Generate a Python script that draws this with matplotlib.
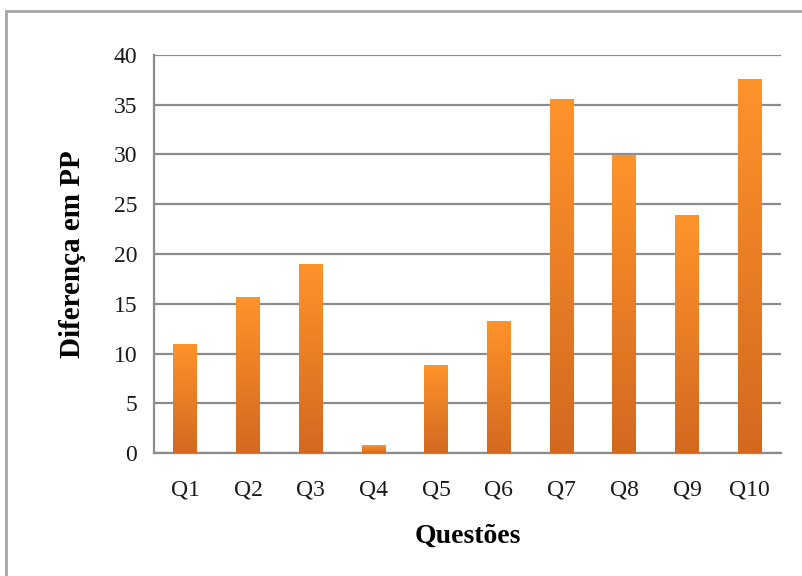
import numpy as np
import matplotlib.pyplot as plt
from matplotlib.patches import Rectangle
from matplotlib.colors import LinearSegmentedColormap

questoes = ["Q1", "Q2", "Q3", "Q4", "Q5", "Q6", "Q7", "Q8", "Q9", "Q10"]
diferenca = [11.0, 15.7, 19.0, 0.8, 8.8, 13.3, 35.6, 29.9, 23.9, 37.6]

plt.rcParams["font.family"] = ["Liberation Serif", "DejaVu Serif"]

fig = plt.figure(figsize=(8.03, 5.76), dpi=100)
ax = fig.add_axes([154/803, 1-453/576, (781-154)/803, (453-55)/576])

# outer frame of the original chart (only left and top edges visible)
fig.patches.append(Rectangle((6/803, -0.1), 1.2, 1.1 - 11/576,
                             transform=fig.transFigure, fill=False,
                             edgecolor="#a6a6a6", linewidth=2))

x = np.arange(len(questoes))
bars = ax.bar(x, diferenca, width=0.38, color="#f28a26", zorder=3)

cmap = LinearSegmentedColormap.from_list("laranja", ["#d2691f", "#ff932b"])
grad = np.linspace(0, 1, 256).reshape(-1, 1)
for b in bars:
    x0, y0 = b.get_x(), b.get_y()
    w, h = b.get_width(), b.get_height()
    im = ax.imshow(grad, cmap=cmap, origin="lower", aspect="auto",
                   extent=[x0, x0 + w, y0, y0 + h], zorder=4)
    im.set_clip_path(b)

ax.set_xlim(-0.5, len(questoes) - 0.5)
ax.set_ylim(0, 40)
ax.set_yticks(range(0, 41, 5))
ax.set_xticks(x)
ax.set_xticklabels(questoes)
ax.yaxis.grid(True, color="#8c8c8c", linewidth=1.6, zorder=1)
ax.set_axisbelow(True)

for s in ["top", "right"]:
    ax.spines[s].set_visible(False)
for s in ["left", "bottom"]:
    ax.spines[s].set_color("#8c8c8c")
    ax.spines[s].set_linewidth(1.6)

ax.tick_params(axis="both", length=0, labelsize=17, colors="#1a1a1a")
ax.tick_params(axis="x", pad=19)
ax.tick_params(axis="y", pad=12)

ax.set_xlabel("Questões", fontsize=20, fontweight="bold", labelpad=17)
ax.set_ylabel("Diferença em PP", fontsize=21, fontweight="bold", labelpad=20)

fig.savefig("out.png", dpi=100)
